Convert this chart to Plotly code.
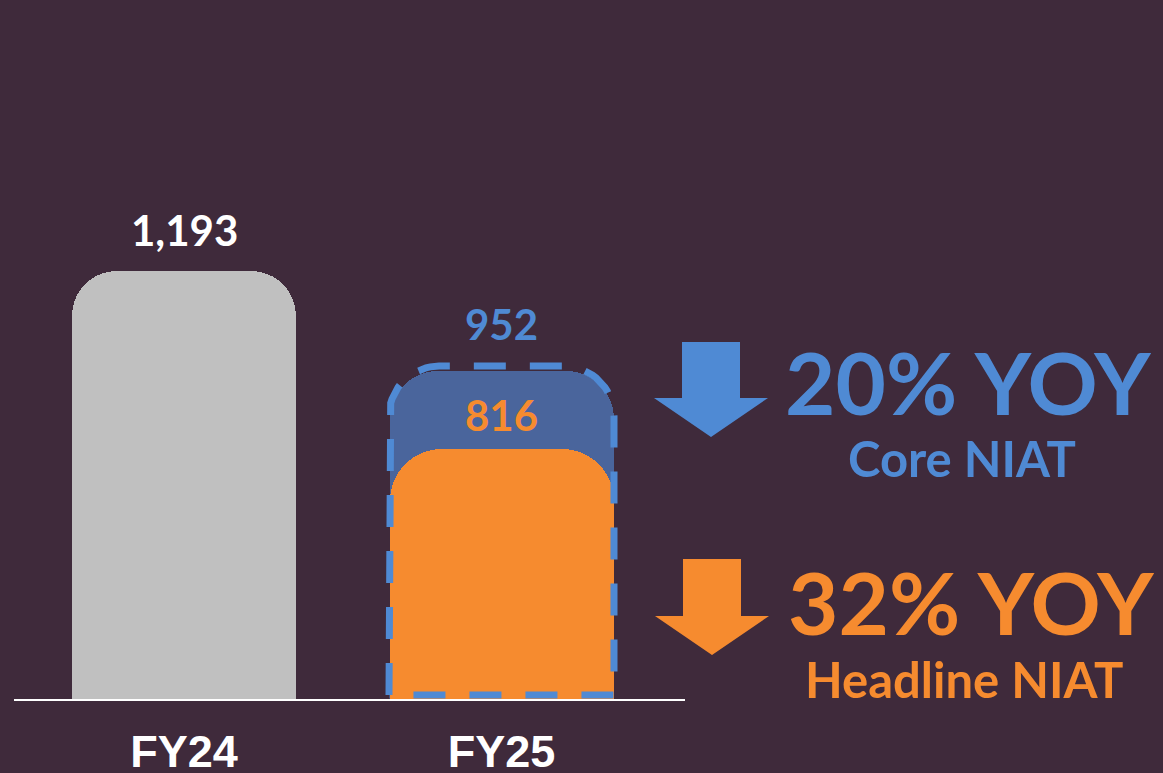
import math
import plotly.graph_objects as go

# data
years = ["FY24", "FY25"]
niat_fy24 = 1193
core_niat = 952
headline_niat = 816
# bar heights as drawn on the slide (not to scale with the labels)
fy24_drawn = 1193
core_drawn = 914
headline_drawn = 697
yoy_core = "20% YOY"
yoy_headline = "32% YOY"

BG = "#3f2a3b"
GREY = "#c0c0c0"
BLUE_FILL = "#4a659c"
BLUE = "#4f8ad4"
ORANGE = "#f68b2f"
FONT = "Lato"

W, H = 1163, 773
L, R, T, B = 14, 685, 40, 699          # plot box in px
px_per_x = 317.5
px_per_y = (B - 271) / fy24_drawn
x0 = -(184 - L) / px_per_x
x1 = (R - 184) / px_per_x
y1 = (B - T) / px_per_y
bar_w = 224 / px_per_x


def px(x, y):
    # pixel -> paper coords
    return (x - L) / (R - L), (B - y) / (B - T)


fig = go.Figure()

fig.add_trace(go.Bar(x=[0], y=[fy24_drawn], width=bar_w,
                     marker=dict(color=GREY, cornerradius=45, line=dict(width=0)),
                     hoverinfo="skip", showlegend=False))
fig.add_trace(go.Bar(x=[1], y=[core_drawn], width=bar_w,
                     marker=dict(color=BLUE_FILL, cornerradius=48, line=dict(width=0)),
                     hoverinfo="skip", showlegend=False))
# orange bar on its own overlaid axis so its corners get rounded too
fig.add_trace(go.Bar(x=[1], y=[headline_drawn], width=bar_w, xaxis="x2",
                     marker=dict(color=ORANGE, cornerradius=52, line=dict(width=0)),
                     hoverinfo="skip", showlegend=False))

# dashed rounded outline around the FY25 bar
hw = (bar_w / 2) + 0.5 / px_per_x
top = core_drawn + 5 / px_per_y
bot = 4 / px_per_y
rx = 50 / px_per_x
ry = 50 / px_per_y
ox, oy = [1 - hw, 1 - hw], [bot, top - ry]
for i in range(19):
    a = math.pi - i * math.pi / 36
    ox.append(1 - hw + rx + rx * math.cos(a))
    oy.append(top - ry + ry * math.sin(a))
for i in range(19):
    a = math.pi / 2 - i * math.pi / 36
    ox.append(1 + hw - rx + rx * math.cos(a))
    oy.append(top - ry + ry * math.sin(a))
ox += [1 + hw, 1 - hw]
oy += [bot, bot]
fig.add_trace(go.Scatter(x=ox, y=oy, mode="lines", xaxis="x2",
                         line=dict(color=BLUE, width=7, dash="32px,24px"),
                         hoverinfo="skip", showlegend=False))

# value labels
labels = [
    (0, fy24_drawn, f"{niat_fy24:,}", "white", 14),
    (1, core_drawn, f"{core_niat:,}", BLUE, 20),
    (1, headline_drawn, f"{headline_niat:,}", ORANGE, 7),
]
for xv, yv, txt, col, shift in labels:
    fig.add_annotation(x=xv, y=yv, text=f"<b>{txt}</b>", showarrow=False,
                       yanchor="bottom", yshift=shift,
                       font=dict(family=FONT, size=42, color=col))


# arrows + YoY callouts
def arrow_path(cx, ytop, yneck, ytip, shaft_hw, head_hw):
    pts = [(cx - shaft_hw, ytop), (cx + shaft_hw, ytop), (cx + shaft_hw, yneck),
           (cx + head_hw, yneck), (cx, ytip), (cx - head_hw, yneck),
           (cx - shaft_hw, yneck)]
    pp = [px(a, b) for a, b in pts]
    return "M " + " L ".join(f"{a:.5f},{b:.5f}" for a, b in pp) + " Z"


fig.add_shape(type="path", xref="paper", yref="paper",
              path=arrow_path(711, 342, 398, 437, 29, 57),
              fillcolor=BLUE, line=dict(width=0))
fig.add_shape(type="path", xref="paper", yref="paper",
              path=arrow_path(712, 559, 616, 655, 29, 57),
              fillcolor=ORANGE, line=dict(width=0))

callouts = [
    (968, 381, yoy_core, BLUE, 87),
    (962, 458, "Core NIAT", BLUE, 49),
    (971, 601, yoy_headline, ORANGE, 87),
    (964, 679, "Headline NIAT", ORANGE, 49),
]
for cx, cy, txt, col, size in callouts:
    ax, ay = px(cx, cy)
    fig.add_annotation(x=ax, y=ay, xref="paper", yref="paper", text=f"<b>{txt}</b>",
                       showarrow=False, xanchor="center", yanchor="middle",
                       font=dict(family=FONT, size=size, color=col))

fig.update_layout(
    width=W, height=H,
    margin=dict(l=L, r=W - R, t=T, b=H - B, autoexpand=False),
    paper_bgcolor=BG, plot_bgcolor=BG,
    barmode="overlay", bargap=0,
    xaxis=dict(range=[x0, x1], tickvals=[0, 1], ticktext=[f"<b>{y}</b>" for y in years],
               tickfont=dict(family="Liberation Sans", size=45, color="white"),
               showline=True, linecolor="white", linewidth=2,
               ticks="outside", ticklen=12, tickcolor=BG, automargin=False,
               showgrid=False, zeroline=False, fixedrange=True),
    xaxis2=dict(range=[x0, x1], overlaying="x", visible=False, fixedrange=True),
    yaxis=dict(range=[0, y1], visible=False, showgrid=False, zeroline=False, fixedrange=True),
)

fig.write_html("out.html", config={"displayModeBar": False},
               post_script="document.body.style.margin='0';")
